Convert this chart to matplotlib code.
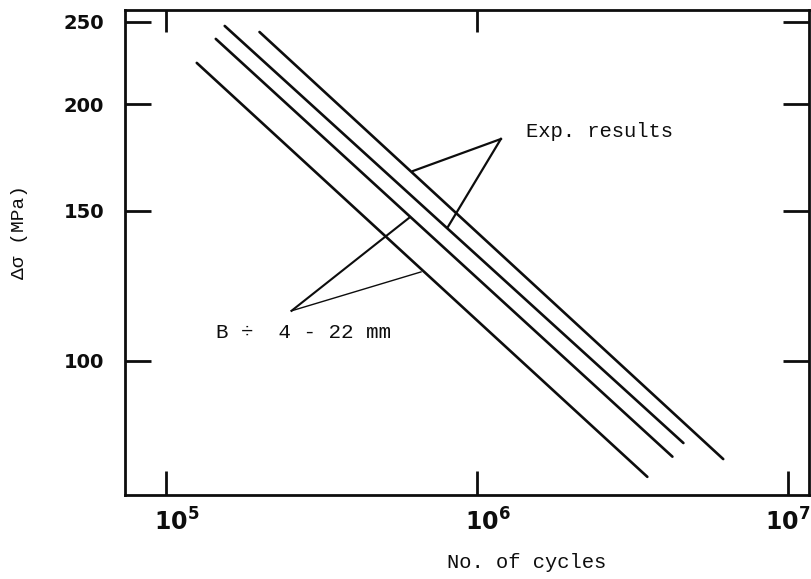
import numpy as np
import matplotlib
matplotlib.use("Agg")
import matplotlib.pyplot as plt
from matplotlib.ticker import NullLocator
from matplotlib.transforms import ScaledTranslation

# four parallel S-N lines: (N start, N end), (stress start, stress end)
n_start = [1.257e5, 1.447e5, 1.546e5, 2.00e5]
n_end = [3.53e6, 4.25e6, 4.61e6, 6.19e6]
s_start = [223.8, 238.8, 247.3, 243.3]
s_end = [73.1, 77.2, 80.1, 76.7]

x_ticks = [1e5, 1e6, 1e7]
x_ticklabels = [r"$\mathbf{10^{5}}$", r"$\mathbf{10^{6}}$", r"$\mathbf{10^{7}}$"]
y_ticks = [100, 150, 200, 250]
y_ticklabels = ["100", "150", "200", "250"]

# annotation pointers (vertex, then two leg ends)
exp_vertex = (1.194e6, 182.2)
exp_legs = [(6.23e5, 167.1), (8.07e5, 143.7)]
b_vertex = (2.534e5, 114.5)
b_legs = [(6.05e5, 147.2), (6.61e5, 127.2)]
exp_text_pos = (1.436e6, 185.7)
b_text_pos = (1.445e5, 107.9)

mono = ["Liberation Mono", "DejaVu Sans Mono"]
ink = "#0d0d0d"

fig = plt.figure(figsize=(8.12, 5.79), dpi=100)
ax = fig.add_axes([125/812, 1-495/579, 684/812, 485/579])

for i in range(len(n_start)):
    ax.plot([n_start[i], n_end[i]], [s_start[i], s_end[i]], color=ink, lw=1.9,
            solid_capstyle="round")

ax.set_xscale("log")
ax.set_yscale("log")
ax.set_xlim(7.39e4, 1.168e7)
ax.set_ylim(69.6, 258.2)
ax.xaxis.set_minor_locator(NullLocator())
ax.yaxis.set_minor_locator(NullLocator())

ax.set_xticks(x_ticks)
ax.set_xticklabels(x_ticklabels, fontsize=17)
ax.set_yticks(y_ticks)
ax.set_yticklabels(y_ticklabels, fontsize=14, fontweight="bold")
ax.tick_params(axis="x", direction="in", length=17, width=2.0, pad=10, colors=ink)
ax.tick_params(axis="y", direction="in", length=19, width=2.0, pad=15, colors=ink,
               right=True)
# hand-lettered labels sit a little right of their ticks
for lab in ax.get_xticklabels()[:2]:
    lab.set_transform(lab.get_transform() + ScaledTranslation(8/72, 0, fig.dpi_scale_trans))

top = ax.secondary_xaxis("top")
top.set_xticks(x_ticks[:2])
top.xaxis.set_minor_locator(NullLocator())
top.tick_params(direction="in", length=16, width=2.0, labeltop=False, colors=ink)
top.spines["top"].set_visible(False)

for sp in ax.spines.values():
    sp.set_linewidth(2.0)
    sp.set_color(ink)

# pointers
for end in exp_legs:
    ax.plot([exp_vertex[0], end[0]], [exp_vertex[1], end[1]], color=ink, lw=1.6)
ax.plot([b_vertex[0], b_legs[0][0]], [b_vertex[1], b_legs[0][1]], color=ink, lw=1.5)
ax.plot([b_vertex[0], b_legs[1][0]], [b_vertex[1], b_legs[1][1]], color=ink, lw=1.0)

ax.text(*exp_text_pos, "Exp. results", family=mono, fontsize=14.8,
        color=ink, ha="left", va="center")
ax.text(*b_text_pos, "B \u00f7  4 - 22 mm", family=mono, fontsize=15,
        color=ink, ha="left", va="center")

fig.text(527/812, 1-563/579, "No. of cycles", family=mono, fontsize=14.8,
         color=ink, ha="center", va="center")
fig.text(20/812, 1-232/579, "\u0394\u03c3 (MPa)", family=mono, fontsize=14,
         color=ink, ha="center", va="center", rotation=90)

fig.savefig("out.png", dpi=100, facecolor="white")
